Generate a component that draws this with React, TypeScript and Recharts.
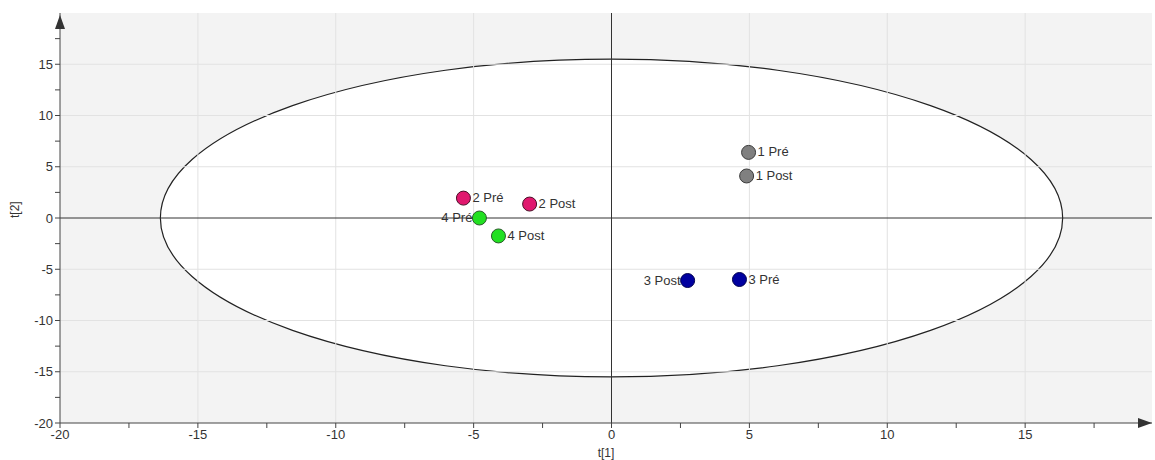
import {
  ScatterChart,
  Scatter,
  XAxis,
  YAxis,
  CartesianGrid,
  ReferenceArea,
  ReferenceLine,
  ReferenceDot,
} from "recharts";

const names = ["1 Pré", "1 Post", "2 Pré", "2 Post", "3 Pré", "3 Post", "4 Pré", "4 Post"];
const t1 = [4.97, 4.9, -5.37, -2.97, 4.64, 2.76, -4.79, -4.1];
const t2 = [6.4, 4.1, 1.94, 1.36, -6.0, -6.1, 0, -1.75];
const groupOf = [1, 1, 2, 2, 3, 3, 4, 4];
const labelSide = ["right", "right", "right", "right", "right", "left", "left", "right"];

const groups = [1, 2, 3, 4];
const groupFill = ["#808080", "#e0186e", "#0000a0", "#22e022"];
const groupStroke = ["#3a3a3a", "#4a1028", "#000050", "#2a5a2a"];

const xTicks = [-20, -17.5, -15, -12.5, -10, -7.5, -5, -2.5, 0, 2.5, 5, 7.5, 10, 12.5, 15, 17.5];
const yTicks = [-20, -17.5, -15, -12.5, -10, -7.5, -5, -2.5, 0, 2.5, 5, 7.5, 10, 12.5, 15, 17.5];
const xGrid = [-15, -10, -5, 5, 10, 15];
const yGrid = [-15, -10, -5, 5, 10, 15];

// Hotelling T2 ellipse half-axes
const ellipseA = 16.36;
const ellipseB = 15.5;

const xMax = 19.6;
const yMax = 20;

const rows = names.map((name, i) => ({
  name,
  x: t1[i],
  y: t2[i],
  group: groupOf[i],
  side: labelSide[i],
}));

const font = "'Liberation Sans', Arial, sans-serif";

const fmt = (v: number) => (Number.isInteger(v) ? String(v) : "");

function Dot(props: any) {
  const { cx, cy, payload } = props;
  const gi = payload.group - 1;
  const right = payload.side === "right";
  return (
    <g>
      <circle cx={cx} cy={cy} r={7} fill={groupFill[gi]} stroke={groupStroke[gi]} strokeWidth={1} />
      <text
        x={right ? cx + 9 : cx - 7}
        y={cy}
        dy={4}
        textAnchor={right ? "start" : "end"}
        fontSize={13}
        fontFamily={font}
        fill="#333"
      >
        {payload.name}
      </text>
    </g>
  );
}

export default function App() {
  return (
    <div style={{ position: "absolute", left: 0, top: 0, background: "#fff" }}>
      <ScatterChart width={1155} height={460} margin={{ top: 13, right: 3, bottom: 0, left: 0 }}>
        <CartesianGrid fill="#f3f3f3" horizontal={false} vertical={false} />
        <XAxis
          type="number"
          dataKey="x"
          domain={[-20, xMax]}
          ticks={xTicks}
          tickFormatter={fmt}
          allowDataOverflow
          height={37}
          stroke="#444"
          tickSize={5}
          tick={{ fontSize: 13, fill: "#333", fontFamily: font }}
          label={{ value: "t[1]", position: "insideBottom", offset: 3, fontSize: 12, fill: "#333", fontFamily: font }}
        />
        <YAxis
          type="number"
          dataKey="y"
          domain={[-20, yMax]}
          ticks={yTicks}
          tickFormatter={fmt}
          allowDataOverflow
          width={60}
          stroke="#444"
          tickSize={5}
          tick={{ fontSize: 13, fill: "#333", fontFamily: font }}
          label={{ value: "t[2]", angle: -90, position: "insideLeft", offset: 15, fontSize: 12, fill: "#333", fontFamily: font }}
        />
        <ReferenceArea
          x1={-ellipseA}
          x2={ellipseA}
          y1={-ellipseB}
          y2={ellipseB}
          shape={(p: any) => (
            <ellipse
              cx={p.x + p.width / 2}
              cy={p.y + p.height / 2}
              rx={Math.abs(p.width) / 2}
              ry={Math.abs(p.height) / 2}
              fill="#fff"
              stroke="#222"
              strokeWidth={1.2}
            />
          )}
        />
        {xGrid.map((v) => (
          <ReferenceLine key={"gx" + v} x={v} stroke="#e2e2e2" />
        ))}
        {yGrid.map((v) => (
          <ReferenceLine key={"gy" + v} y={v} stroke="#e2e2e2" />
        ))}
        <ReferenceLine x={0} stroke="#333" />
        <ReferenceLine y={0} stroke="#333" />
        <ReferenceDot
          x={xMax}
          y={-20}
          ifOverflow="visible"
          shape={(p: any) => (
            <path d={`M${p.cx},${p.cy} L${p.cx - 14},${p.cy - 5} L${p.cx - 14},${p.cy + 5} Z`} fill="#333" />
          )}
        />
        <ReferenceDot
          x={-20}
          y={yMax}
          ifOverflow="visible"
          shape={(p: any) => (
            <path d={`M${p.cx},${p.cy + 2} L${p.cx - 5},${p.cy + 16} L${p.cx + 5},${p.cy + 16} Z`} fill="#333" />
          )}
        />
        {groups.map((g) => (
          <Scatter
            key={g}
            data={rows.filter((r) => r.group === g)}
            shape={Dot}
            isAnimationActive={false}
          />
        ))}
      </ScatterChart>
    </div>
  );
}
